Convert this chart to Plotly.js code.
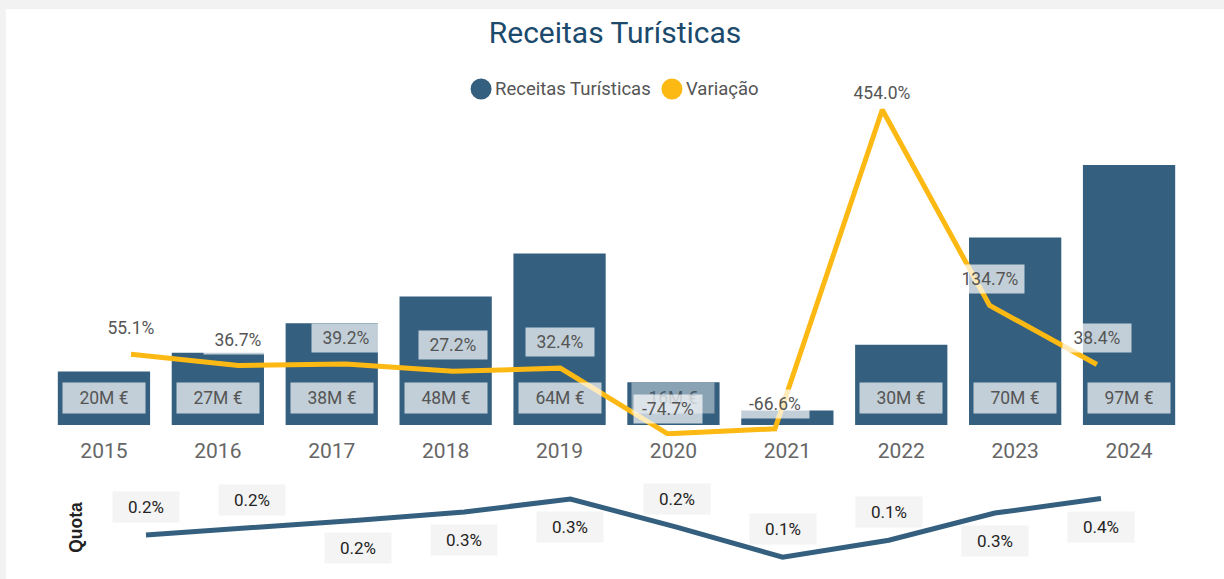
<!DOCTYPE html>
<html>
<head>
<meta charset="utf-8">
<script src="https://cdn.plot.ly/plotly-3.0.1.min.js"></script>
<style>
  html, body { margin: 0; padding: 0; background: #f2f2f2; width: 1224px; height: 579px; overflow: hidden; }
  #chart { position: absolute; left: 6px; top: 9px; width: 1218px; height: 570px; background: #ffffff; }
</style>
</head>
<body>
<div id="chart"></div>
<script>
// ---- data ----
const years = ['2015', '2016', '2017', '2018', '2019', '2020', '2021', '2022', '2023', '2024'];
const receitas = [20, 27, 38, 48, 64, 16, 5.4, 30, 70, 97];
const receitasLabels = ['20M €', '27M €', '38M €', '48M €', '64M €', '16M €', '', '30M €', '70M €', '97M €'];
const variacao = [55.1, 36.7, 39.2, 27.2, 32.4, -74.7, -66.6, 454.0, 134.7, 38.4];
const variacaoLabels = ['55.1%', '36.7%', '39.2%', '27.2%', '32.4%', '-74.7%', '-66.6%', '454.0%', '134.7%', '38.4%'];
const quota = [0.162, 0.194, 0.231, 0.269, 0.329, 0.199, 0.059, 0.138, 0.264, 0.331];
const quotaLabels = ['0.2%', '0.2%', '0.2%', '0.3%', '0.3%', '0.2%', '0.1%', '0.1%', '0.3%', '0.4%'];
const legendNames = ['Receitas Turísticas', 'Variação'];

// ---- styles ----
const BLUE = '#345f7e';
const GOLD = '#FDB913';
const FONT = 'Roboto, "Open Sans", sans-serif';
const quotaAbove = [true, true, false, false, false, true, true, true, false, false];
const variacaoShift = [26, 26, 26, 26, 26, 25, 25, 17, 26, 26];

const traces = [
  {
    type: 'bar', x: years, y: receitas, name: legendNames[0],
    marker: { color: BLUE }, xaxis: 'x', yaxis: 'y', hoverinfo: 'skip'
  },
  {
    type: 'scatter', mode: 'lines', x: years, y: variacao, name: legendNames[1],
    line: { color: GOLD, width: 5 }, xaxis: 'x2', yaxis: 'y2', hoverinfo: 'skip', cliponaxis: false
  },
  {
    type: 'scatter', mode: 'lines', x: years, y: quota, name: 'Quota',
    line: { color: BLUE, width: 5 }, xaxis: 'x3', yaxis: 'y3', hoverinfo: 'skip', cliponaxis: false
  }
];

const annotations = [];
years.forEach((yr, i) => {
  if (!receitasLabels[i]) return;
  annotations.push({
    x: i, y: 0, xref: 'x', yref: 'y', text: receitasLabels[i], showarrow: false,
    yshift: 27, font: { family: FONT, size: 17.5, color: '#555555' },
    bgcolor: 'rgba(255,255,255,0.7)', borderpad: 5, width: 72, height: 20,
    opacity: i === 5 ? 0.6 : 1
  });
});
years.forEach((yr, i) => {
  annotations.push({
    x: i, y: variacao[i], xref: 'x2', yref: 'y2', text: variacaoLabels[i], showarrow: false,
    yshift: variacaoShift[i], font: { family: FONT, size: 17.5, color: '#555555' },
    bgcolor: 'rgba(255,255,255,0.7)', borderpad: 4, width: 60, height: 20
  });
});
years.forEach((yr, i) => {
  annotations.push({
    x: i, y: quota[i], xref: 'x3', yref: 'y3', text: quotaLabels[i], showarrow: false,
    yshift: quotaAbove[i] ? 28 : -28, font: { family: FONT, size: 17, color: '#252423' },
    bgcolor: '#f4f4f4', borderpad: 5, width: 56, height: 20
  });
});

// custom legend (circle markers beside text)
const legendY = 0.8596;
const legendItems = [
  { cx: 0.3811, tx: 0.3916, color: BLUE, name: legendNames[0] },
  { cx: 0.5487, tx: 0.5593, color: GOLD, name: legendNames[1] }
];
const shapes = [];
legendItems.forEach(it => {
  shapes.push({
    type: 'circle', xref: 'paper', yref: 'paper',
    xsizemode: 'pixel', ysizemode: 'pixel', xanchor: it.cx, yanchor: legendY,
    x0: -10.5, x1: 10.5, y0: -10.5, y1: 10.5,
    fillcolor: it.color, line: { width: 0 }
  });
  annotations.push({
    x: it.tx, y: legendY, xref: 'paper', yref: 'paper', xanchor: 'left', yanchor: 'middle',
    text: it.name, showarrow: false, font: { family: FONT, size: 18.5, color: '#555555' }
  });
});

const layout = {
  width: 1218, height: 570,
  margin: { l: 41, r: 38, t: 0, b: 0 },
  paper_bgcolor: '#ffffff', plot_bgcolor: 'rgba(0,0,0,0)',
  font: { family: FONT, color: '#555555' },
  title: {
    text: 'Receitas Turísticas', x: 0.5, xref: 'container', xanchor: 'center',
    y: 0.958, yref: 'container', yanchor: 'middle',
    font: { family: FONT, size: 30, color: '#1b4a6d' }
  },
  showlegend: false,
  bargap: 0.19,
  xaxis: {
    type: 'category', range: [-0.5, 9.5], domain: [0, 1], anchor: 'y',
    showgrid: false, zeroline: false, showline: false, ticks: '',
    tickfont: { family: FONT, size: 21, color: '#666666' }
  },
  yaxis: {
    range: [-4.1, 121.3], domain: [0.25088, 0.84035], anchor: 'x',
    showgrid: false, zeroline: false, showline: false, showticklabels: false, ticks: ''
  },
  xaxis2: {
    type: 'category', range: [-0.783, 9.83], overlaying: 'x', anchor: 'y2',
    showgrid: false, zeroline: false, showline: false, showticklabels: false, ticks: ''
  },
  yaxis2: {
    range: [-78.3, 469.8], overlaying: 'y', anchor: 'x2', side: 'right',
    showgrid: false, zeroline: false, showline: false, showticklabels: false, ticks: ''
  },
  xaxis3: {
    type: 'category', range: [-0.424, 9.801], domain: [0.0474, 1], anchor: 'y3',
    showgrid: false, zeroline: false, showline: false, showticklabels: false, ticks: ''
  },
  yaxis3: {
    range: [0, 0.394], domain: [0.01579, 0.16491], anchor: 'x3',
    showgrid: false, zeroline: false, showline: false, showticklabels: false, ticks: '',
    title: { text: '<b>Quota</b>', standoff: 12, font: { family: 'Liberation Sans, Arial, sans-serif', size: 17.5, color: '#222222' } }
  },
  shapes: shapes,
  annotations: annotations
};

Plotly.newPlot('chart', traces, layout, { staticPlot: true, displayModeBar: false });
</script>
</body>
</html>
